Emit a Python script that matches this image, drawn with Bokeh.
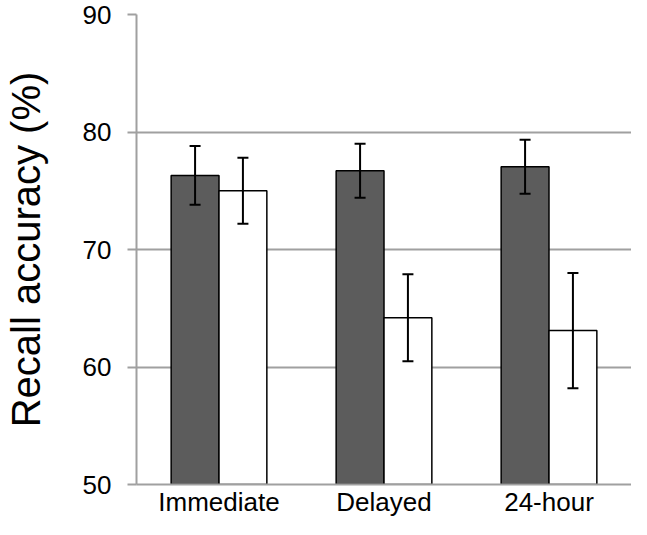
from bokeh.plotting import figure
from bokeh.models import FactorRange, ColumnDataSource, Whisker, FixedTicker, Range1d
from bokeh.transform import dodge
from bokeh.embed import file_html
from bokeh.resources import INLINE

categories = ["Immediate", "Delayed", "24-hour"]
dark_values = [76.3, 76.7, 77.05]
dark_errors = [2.5, 2.3, 2.3]
white_values = [75.0, 64.2, 63.1]
white_errors = [2.8, 3.7, 4.9]
y_ticks = [50, 60, 70, 80, 90]

dark_src = ColumnDataSource(dict(
    cat=categories, val=dark_values,
    upper=[v + e for v, e in zip(dark_values, dark_errors)],
    lower=[v - e for v, e in zip(dark_values, dark_errors)],
))
white_src = ColumnDataSource(dict(
    cat=categories, val=white_values,
    upper=[v + e for v, e in zip(white_values, white_errors)],
    lower=[v - e for v, e in zip(white_values, white_errors)],
))

p = figure(x_range=FactorRange(*categories, range_padding=0), y_range=Range1d(50, 90),
           width=631, height=519, output_backend="svg", toolbar_location=None,
           min_border_left=128, min_border_right=0, min_border_top=14, min_border_bottom=31)

BW = 0.29
OFF = 0.145
p.vbar(x=dodge("cat", -OFF, range=p.x_range), top="val", bottom=50, width=BW, source=dark_src,
       fill_color="#5c5c5c", line_color="black", line_width=1.5)
p.vbar(x=dodge("cat", OFF, range=p.x_range), top="val", bottom=50, width=BW, source=white_src,
       fill_color="white", line_color="black", line_width=1.5)

for src, off in ((dark_src, -OFF), (white_src, OFF)):
    w = Whisker(base=dodge("cat", off, range=p.x_range), upper="upper", lower="lower", source=src,
                line_color="black", line_width=2, level="glyph")
    w.upper_head.size = 11
    w.lower_head.size = 11
    w.upper_head.line_width = 2
    w.lower_head.line_width = 2
    w.upper_head.line_color = "black"
    w.lower_head.line_color = "black"
    p.add_layout(w)

p.outline_line_color = None
p.xgrid.grid_line_color = None
p.ygrid.grid_line_color = "#a0a0a0"
p.ygrid.grid_line_width = 2
p.ygrid.ticker = FixedTicker(ticks=y_ticks)

p.yaxis.ticker = FixedTicker(ticks=y_ticks)
p.yaxis.axis_line_color = "#a0a0a0"
p.yaxis.axis_line_width = 2
p.yaxis.major_tick_line_color = "#a0a0a0"
p.yaxis.major_tick_line_width = 2
p.yaxis.major_tick_out = 9
p.yaxis.major_tick_in = 0
p.yaxis.minor_tick_line_color = None
p.yaxis.major_label_text_font = "Liberation Sans"
p.yaxis.major_label_text_font_size = "26px"
p.yaxis.major_label_text_color = "black"
p.yaxis.major_label_standoff = 16
p.yaxis.axis_label = "Recall accuracy (%)"
p.yaxis.axis_label_text_font = "Liberation Sans"
p.yaxis.axis_label_text_font_size = "40px"
p.yaxis.axis_label_text_font_style = "normal"
p.yaxis.axis_label_text_color = "black"
p.yaxis.axis_label_standoff = 32

p.xaxis.axis_line_color = "#a0a0a0"
p.xaxis.axis_line_width = 2
p.xaxis.major_tick_line_color = None
p.xaxis.major_tick_out = 0
p.xaxis.major_tick_in = 0
p.xaxis.major_label_text_font = "Liberation Sans"
p.xaxis.major_label_text_font_size = "26px"
p.xaxis.major_label_text_color = "black"
p.xaxis.major_label_standoff = 2

open("out.html", "w").write(file_html(p, INLINE))
